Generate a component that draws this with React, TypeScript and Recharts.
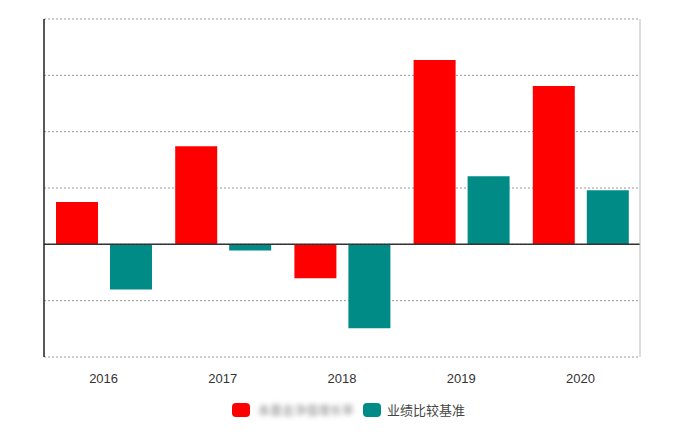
import { Bar, BarChart, CartesianGrid, ReferenceLine, XAxis, YAxis } from 'recharts';

const years = ['2016', '2017', '2018', '2019', '2020'];
const fundReturn = [7.5, 17.4, -6.0, 32.7, 28.1];
const benchmarkReturn = [-8.0, -1.1, -14.9, 12.1, 9.6];
const yTicks = [-20, -10, 0, 10, 20, 30, 40];

const fundName = '本基金净值增长率';
const benchmarkName = '业绩比较基准';

const RED = '#ff0000';
const TEAL = '#008b87';

const data = years.map((year, i) => ({
  year,
  fund: fundReturn[i],
  benchmark: benchmarkReturn[i],
}));

const font = '"Liberation Sans Narrow", "Liberation Sans", Arial, sans-serif';
const noTick = () => <g />;

function ChartLegend() {
  return (
    <div
      style={{
        position: 'absolute',
        top: 400,
        left: 232,
        display: 'flex',
        alignItems: 'center',
        fontFamily: '"Noto Sans CJK SC", sans-serif',
        fontSize: 13,
        color: '#444',
      }}
    >
      <span style={{ width: 18, height: 14, borderRadius: 4, background: RED, display: 'inline-block' }} />
      <span style={{ marginLeft: 8, fontSize: 12, filter: 'blur(2.5px)', color: '#888', whiteSpace: 'nowrap' }}>
        {fundName}
      </span>
      <span style={{ marginLeft: 9, width: 18, height: 14, borderRadius: 4, background: TEAL, display: 'inline-block' }} />
      <span style={{ marginLeft: 6 }}>{benchmarkName}</span>
    </div>
  );
}

export default function App() {
  return (
    <div style={{ position: 'absolute', left: 0, top: 0, width: 682, height: 434, background: '#fff' }}>
      <BarChart
        width={682}
        height={434}
        data={data}
        margin={{ top: 19, right: 41, left: 43, bottom: 47 }}
        barCategoryGap={12}
        barGap={12}
      >
        <CartesianGrid vertical={false} stroke="#999" strokeDasharray="2 2" />
        <XAxis
          dataKey="year"
          axisLine={false}
          tickLine={false}
          height={30}
          tickMargin={11}
          tick={{ fontSize: 13, fill: '#333', fontFamily: font }}
        />
        <YAxis
          width={1}
          domain={[-20, 40]}
          ticks={yTicks}
          tick={noTick}
          tickLine={false}
          axisLine={{ stroke: '#222', strokeWidth: 1.5 }}
        />
        <YAxis
          yAxisId="right"
          orientation="right"
          width={1}
          domain={[-20, 40]}
          ticks={yTicks}
          tick={noTick}
          tickLine={false}
          axisLine={{ stroke: '#bbb' }}
        />
        <Bar dataKey="fund" name={fundName} fill={RED} isAnimationActive={false} />
        <Bar dataKey="benchmark" name={benchmarkName} fill={TEAL} isAnimationActive={false} />
        <ReferenceLine y={0} stroke="#333" strokeWidth={1.5} />
      </BarChart>
      <ChartLegend />
    </div>
  );
}
